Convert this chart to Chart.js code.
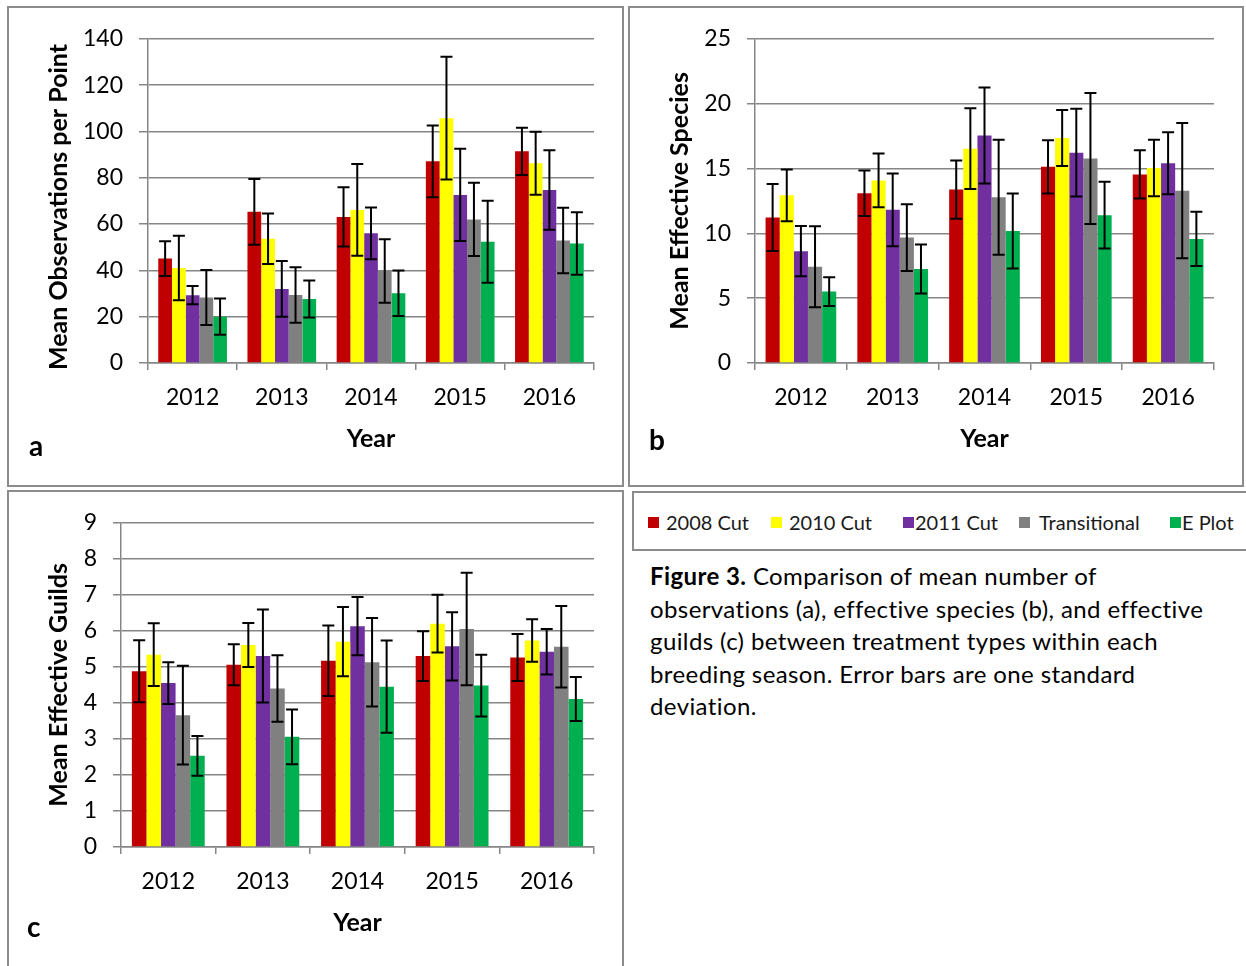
<!DOCTYPE html>
<html><head><meta charset="utf-8">
<script src="https://cdn.jsdelivr.net/npm/chart.js@4.4.1/dist/chart.umd.min.js"></script>
<style>
html,body{margin:0;padding:0;background:#fff;width:1246px;height:966px;overflow:hidden;position:relative;font-family:Lato,sans-serif;}
.panel{position:absolute;border:2px solid #8c8c8c;box-sizing:border-box;}
canvas{position:absolute;}
.lab{position:absolute;font-weight:bold;font-size:28px;line-height:1;color:#000;}
#legend{position:absolute;left:632px;top:491px;width:640px;height:60px;border:2px solid #8c8c8c;box-sizing:border-box;}
.sw{position:absolute;width:11px;height:11px;}
.lt{position:absolute;font-size:20px;line-height:20px;color:#1a1a1a;white-space:nowrap;}
#caption{position:absolute;left:650px;top:560px;font-size:24px;letter-spacing:0.4px;line-height:32.5px;color:#000;white-space:nowrap;}
</style></head>
<body>
<div class="panel" style="left:7px;top:6px;width:617px;height:481px;"></div>
<div class="panel" style="left:628px;top:6px;width:616px;height:481px;"></div>
<div class="panel" style="left:7px;top:490px;width:617px;height:490px;"></div>
<canvas id="cA" width="611" height="475" style="left:9px;top:9px;"></canvas>
<canvas id="cB" width="612" height="475" style="left:630px;top:9px;"></canvas>
<canvas id="cC" width="611" height="475" style="left:9px;top:493px;"></canvas>
<div class="lab" style="left:29px;top:431px;">a</div>
<div class="lab" style="left:649px;top:425px;">b</div>
<div class="lab" style="left:27px;top:912px;">c</div>
<div id="legend"></div>
<div id="caption"><b>Figure 3.</b> Comparison of mean number of<br>observations (a), effective species (b), and effective<br>guilds (c) between treatment types within each<br>breeding season. Error bars are one standard<br>deviation.</div>
<script>
// ---- categories ----
const years = ['2012', '2013', '2014', '2015', '2016'];
const treatments = ['2008 Cut', '2010 Cut', '2011 Cut', 'Transitional', 'E Plot'];

// ---- (a) mean observations per point ----
const obs2008Cut      = [45.1, 65.3, 63.1, 87.1, 91.4];
const obs2010Cut      = [41.0, 53.7, 66.1, 105.7, 86.3];
const obs2011Cut      = [29.3, 32.0, 56.0, 72.6, 74.7];
const obsTransitional = [28.3, 29.4, 39.7, 62.0, 52.9];
const obsEPlot        = [20.0, 27.6, 30.1, 52.4, 51.6];
const obsSd2008Cut      = [7.5, 14.2, 12.8, 15.5, 10.2];
const obsSd2010Cut      = [13.9, 10.9, 19.8, 26.5, 13.6];
const obsSd2011Cut      = [3.9, 12.0, 11.2, 19.9, 17.2];
const obsSdTransitional = [11.9, 12.0, 13.7, 15.8, 14.1];
const obsSdEPlot        = [7.8, 8.0, 9.8, 17.7, 13.5];
const obsTicks = [0, 20, 40, 60, 80, 100, 120, 140];

// ---- (b) mean effective species ----
const spp2008Cut      = [11.22, 13.09, 13.37, 15.13, 14.54];
const spp2010Cut      = [12.93, 14.08, 16.53, 17.35, 15.03];
const spp2011Cut      = [8.62, 11.81, 17.55, 16.22, 15.41];
const sppTransitional = [7.42, 9.67, 12.78, 15.77, 13.29];
const sppEPlot        = [5.51, 7.24, 10.18, 11.40, 9.57];
const sppSd2008Cut      = [2.59, 1.75, 2.25, 2.05, 1.86];
const sppSd2010Cut      = [1.99, 2.07, 3.11, 2.16, 2.18];
const sppSd2011Cut      = [1.94, 2.81, 3.70, 3.39, 2.39];
const sppSdTransitional = [3.12, 2.57, 4.43, 5.06, 5.22];
const sppSdEPlot        = [1.11, 1.89, 2.90, 2.58, 2.09];
const sppTicks = [0, 5, 10, 15, 20, 25];

// ---- (c) mean effective guilds ----
const gld2008Cut      = [4.88, 5.06, 5.17, 5.30, 5.26];
const gld2010Cut      = [5.34, 5.61, 5.70, 6.20, 5.73];
const gld2011Cut      = [4.55, 5.30, 6.13, 5.57, 5.42];
const gldTransitional = [3.66, 4.40, 5.13, 6.05, 5.56];
const gldEPlot        = [2.53, 3.06, 4.45, 4.48, 4.11];
const gldSd2008Cut      = [0.86, 0.57, 0.98, 0.69, 0.65];
const gldSd2010Cut      = [0.87, 0.61, 0.96, 0.80, 0.59];
const gldSd2011Cut      = [0.58, 1.29, 0.81, 0.95, 0.63];
const gldSdTransitional = [1.37, 0.92, 1.23, 1.56, 1.13];
const gldSdEPlot        = [0.55, 0.76, 1.28, 0.86, 0.61];
const gldTicks = [0, 1, 2, 3, 4, 5, 6, 7, 8, 9];

// ---- styles ----
const seriesColors = ['#C00000', '#FFFF00', '#7030A0', '#808080', '#00B050'];
const GRID = '#868686';
const legendLayout = [{sq: 648, tx: 666}, {sq: 771, tx: 789}, {sq: 903, tx: 915}, {sq: 1019, tx: 1039}, {sq: 1170, tx: 1182}];

Chart.defaults.font.family = 'Lato, sans-serif';
Chart.defaults.color = '#000';

const errorBars = {
  id: 'errorBars',
  afterDatasetsDraw(chart) {
    const ctx = chart.ctx, ys = chart.scales.y;
    chart.data.datasets.forEach((ds, i) => {
      const meta = chart.getDatasetMeta(i);
      meta.data.forEach((bar, j) => {
        const v = ds.data[j], e = ds.sd[j];
        const yt = ys.getPixelForValue(v + e), yb = ys.getPixelForValue(v - e);
        const x = bar.x, hw = 6;
        ctx.save();
        ctx.strokeStyle = '#000';
        ctx.lineWidth = 2;
        ctx.beginPath();
        ctx.moveTo(x, yt); ctx.lineTo(x, yb);
        ctx.moveTo(x - hw, yt); ctx.lineTo(x + hw, yt);
        ctx.moveTo(x - hw, yb); ctx.lineTo(x + hw, yb);
        ctx.stroke();
        ctx.restore();
      });
    });
  }
};

function makeChart(id, means, sds, ticks, title, area, tickLen) {
  const canvas = document.getElementById(id);
  const W = canvas.width, H = canvas.height;
  return new Chart(canvas, {
    type: 'bar',
    data: {
      labels: years,
      datasets: treatments.map((t, i) => ({
        label: t, data: means[i], sd: sds[i],
        backgroundColor: seriesColors[i], borderWidth: 0,
        categoryPercentage: 0.77, barPercentage: 1.0
      }))
    },
    options: {
      responsive: false, animation: false, devicePixelRatio: 1,
      layout: {padding: {top: area.top, right: W - area.right, left: 0, bottom: 0}},
      plugins: {legend: {display: false}, tooltip: {enabled: false}},
      scales: {
        x: {
          grid: {display: true, drawOnChartArea: false, drawTicks: true, tickLength: 7, color: GRID, lineWidth: 1.5, offset: true},
          border: {display: true, color: GRID, width: 1.5},
          ticks: {font: {size: 23}, color: '#000', padding: 14, maxRotation: 0},
          title: {display: true, text: 'Year', font: {size: 25, weight: 'bold'}, color: '#000', padding: {top: 0, bottom: 30}},
          afterFit(s) { s.height = H - area.bottom; }
        },
        y: {
          min: ticks[0], max: ticks[ticks.length - 1],
          afterBuildTicks(s) { s.ticks = ticks.map(v => ({value: v})); },
          grid: {color: GRID, lineWidth: 1.5, tickLength: tickLen},
          border: {display: true, color: GRID, width: 1.5},
          ticks: {font: {size: 23}, color: '#000', padding: 16},
          title: {display: true, text: title, font: {size: 25, weight: 'bold'}, color: '#000', padding: {top: 35, bottom: 0}},
          afterFit(s) { s.width = area.left; }
        }
      }
    },
    plugins: [errorBars]
  });
}

makeChart('cA',
  [obs2008Cut, obs2010Cut, obs2011Cut, obsTransitional, obsEPlot],
  [obsSd2008Cut, obsSd2010Cut, obsSd2011Cut, obsSdTransitional, obsSdEPlot],
  obsTicks, 'Mean Observations per Point  ', {left: 139, top: 27, right: 585, bottom: 354}, 9);
makeChart('cB',
  [spp2008Cut, spp2010Cut, spp2011Cut, sppTransitional, sppEPlot],
  [sppSd2008Cut, sppSd2010Cut, sppSd2011Cut, sppSdTransitional, sppSdEPlot],
  sppTicks, 'Mean Effective Species', {left: 125, top: 27, right: 584, bottom: 354}, 8);
makeChart('cC',
  [gld2008Cut, gld2010Cut, gld2011Cut, gldTransitional, gldEPlot],
  [gldSd2008Cut, gldSd2010Cut, gldSd2011Cut, gldSdTransitional, gldSdEPlot],
  gldTicks, 'Mean Effective Guilds', {left: 112, top: 28, right: 585, bottom: 354}, 8);

// legend
const leg = document.getElementById('legend');
treatments.forEach((t, i) => {
  const sq = document.createElement('div');
  sq.className = 'sw';
  sq.style.background = seriesColors[i];
  sq.style.left = (legendLayout[i].sq - 634) + 'px';
  sq.style.top = '24px';
  leg.appendChild(sq);
  const tx = document.createElement('div');
  tx.className = 'lt';
  tx.textContent = t;
  tx.style.left = (legendLayout[i].tx - 634) + 'px';
  tx.style.top = '19px';
  leg.appendChild(tx);
});
</script>
</body></html>
